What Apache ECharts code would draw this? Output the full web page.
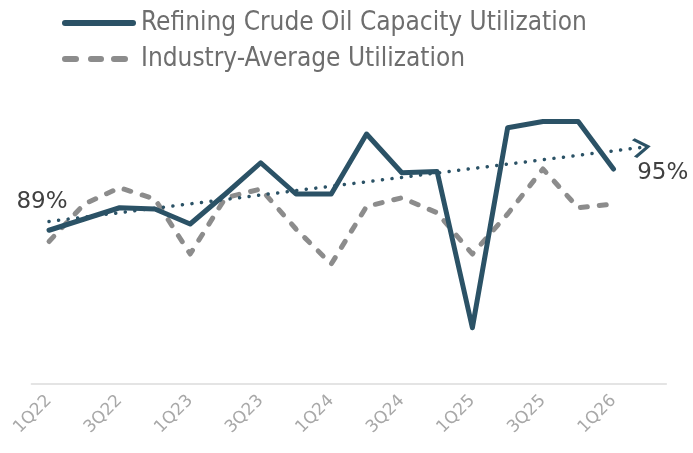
<!DOCTYPE html>
<html><head><meta charset="utf-8">
<script src="https://cdn.jsdelivr.net/npm/echarts@6/dist/echarts.min.js"></script>
<style>html,body{margin:0;padding:0;background:#fff}#c{width:693px;height:453px}</style>
</head><body><div id="c"></div>
<script>
const categories = ['1Q22','2Q22','3Q22','4Q22','1Q23','2Q23','3Q23','4Q23','1Q24','2Q24','3Q24','4Q24','1Q25','2Q25','3Q25','4Q25','1Q26','2Q26'];
const refining = [88.3, 89.2, 90.1, 90.0, 88.8, 91.2, 93.7, 91.2, 91.2, 96.0, 92.9, 93.0, 80.5, 96.5, 97.0, 97.0, 93.2];
const industry = [87.4, 90.4, 91.7, 90.8, 86.4, 90.9, 91.6, 88.4, 85.6, 90.2, 90.9, 89.7, 86.4, 89.6, 93.2, 90.1, 90.4];
const trendStart = 89;
const trendEnd = 95;
const trendLabels = ['89%', '95%'];
const nameA = 'Refining Crude Oil Capacity Utilization';
const nameB = 'Industry-Average Utilization';

const chart = echarts.init(document.getElementById('c'));
const dark = '#2b5266';
const gray = '#8c8c8c';
const dashIcon = 'path://M0,0 M74,6 M3,0 L14,0 A3,3 0 0 1 14,6 L3,6 A3,3 0 0 1 3,0 Z M29,0 L39,0 A3,3 0 0 1 39,6 L29,6 A3,3 0 0 1 29,0 Z M52,0 L63,0 A3,3 0 0 1 63,6 L52,6 A3,3 0 0 1 52,0 Z';
const solidIcon = 'path://M3,0 L71,0 A3,3 0 0 1 71,6 L3,6 A3,3 0 0 1 3,0 Z';
chart.setOption({
  animation: false,
  legend: {
    data: [{name: nameA, icon: solidIcon}, {name: nameB, icon: dashIcon}],
    orient: 'vertical',
    left: 57, top: 5,
    itemWidth: 74, itemHeight: 6, itemGap: 10,
    textStyle: {fontFamily: '"Liberation Sans Narrow","DejaVu Sans Condensed",sans-serif', fontSize: 26, color: '#6e6e6e', padding: [0,0,0,0]}
  },
  grid: {left: 31.4, right: 26.6, top: 84, bottom: 69},
  xAxis: {
    type: 'category', data: categories, boundaryGap: true,
    axisLine: {lineStyle: {color: '#dcdcdc', width: 1.5}},
    axisTick: {show: false},
    axisLabel: {interval: 1, rotate: 45, margin: 14, color: '#a8a8a8', fontSize: 17, fontFamily: '"DejaVu Sans",sans-serif'}
  },
  yAxis: {type: 'value', min: 76, max: 100, show: false, splitLine: {show: false}},
  series: [
    {name: nameA, type: 'line', data: refining, symbol: 'none', z: 3,
     lineStyle: {color: dark, width: 5, cap: 'round', join: 'round'}, itemStyle: {color: dark}},
    {name: nameB, type: 'line', data: industry, symbol: 'none', z: 2,
     lineStyle: {color: gray, width: 5, type: [7, 12], cap: 'round', join: 'round'}, itemStyle: {color: gray}},
    {name: 'trend', type: 'line', symbol: 'circle', symbolSize: 0, showSymbol: true, z: 4,
     lineStyle: {width: 0, opacity: 0},
     data: [
       {value: [0, trendStart], label: {show: true, formatter: trendLabels[0], position: 'top', offset: [-7, -3]}},
       {value: [17, trendEnd], label: {show: true, formatter: trendLabels[1], position: 'bottom', offset: [14, 10]}}
     ],
     label: {color: '#404040', fontSize: 23, fontFamily: '"DejaVu Sans",sans-serif'},
     markLine: {
       silent: true, animation: false,
       symbol: ['none', 'path://M0,0 L10,9 L8.2,10.8 L0,3.4 L-8.2,10.8 L-10,9 Z'],
       symbolSize: [20, 18],
       symbolOffset: [0, [0, 7]],
       label: {show: false},
       lineStyle: {color: dark, width: 3.5, type: [0.1, 9.5], cap: 'round'},
       data: [[{coord: [0, trendStart]}, {coord: [17, trendEnd]}]]
     }}
  ]
});
</script></body></html>
